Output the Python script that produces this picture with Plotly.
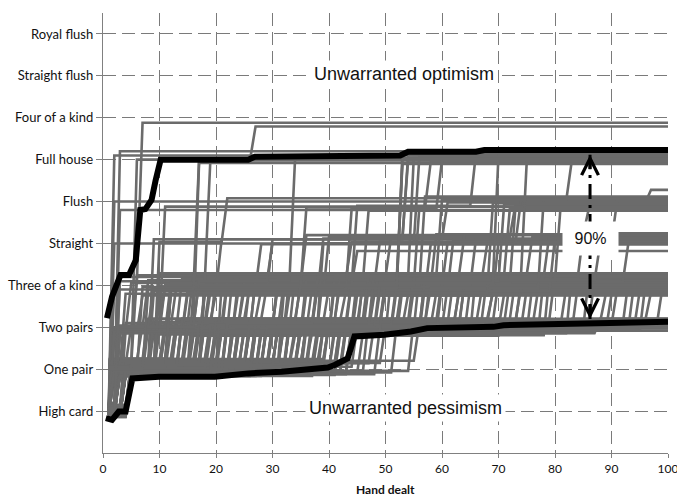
import plotly.graph_objects as go

CATEGORIES = ["High card", "One pair", "Two pairs", "Three of a kind", "Straight",
              "Flush", "Full house", "Four of a kind", "Straight flush", "Royal flush"]
CATEGORY_LEVELS = [1, 2, 3, 4, 5, 6, 7, 8, 9, 10]
X_TICKS = [0, 10, 20, 30, 40, 50, 60, 70, 80, 90, 100]
LAST_HAND = 100

# Each gray path: "hand,value" change points (best hand so far)
PATHS_END_TWO_PAIRS = [
    "1,0.92 4,1.88 44,3.04",
    "1,1.05 3,1.84 12,1.92 52,3.1",
    "1,0.88 5,1.96 55,3.15",
    "1,1.1 2,2.02 30,2.86 83,3.2",
    "1,0.95 5,2.08 24,2.92",
    "1,1.2 3,2.14 17,2.98",
    "1,0.9 4,1.9 38,2.8 71,3.0",
    "1,2.2 9,3.04",
    "1,0.86 5,1.84 29,2.2 56,3.1",
    "1,1.15 3,2.25 13,3.15",
    "1,0.98 4,1.92 46,2.86 88,3.2",
    "1,1.08 4,2.02 33,2.98",
    "1,0.9 2,1.86 21,2.14 48,3.06",
    "1,1.02 5,2.06 40,3.12",
    "1,0.9 4,2.1 36,3.02",
    "1,1.0 3,1.94 47,3.18",
    "1,2.12 30,3.08",
    "1,0.94 5,2.0 14,3.12",
    "1,1.06 2,2.08 26,2.98 79,3.16",
    "1,0.9 4,1.86 42,3.04",
    "1,2.24 8,3.2",
    "1,1.02 3,2.18 34,3.0",
    "1,0.93 3,2.03 39,3.01",
    "1,1.0 5,1.97 43,3.07",
    "1,2.19 18,3.13",
    "1,0.9 4,2.15 50,3.05",
    "1,1.08 2,1.99 23,3.17",
    "1,0.97 3,2.09 35,2.99 92,3.19",
]

PATHS_END_THREE_OF_A_KIND = [
    "1,1.0 2,3.9", "1,0.9 3,4.2", "1,1.05 2,2.0 4,3.8", "1,0.95 3,2.9 5,4.06",
    "1,2.14 6,4.24", "1,0.88 4,1.9 7,3.96", "1,1.0 2,3.0 8,4.12", "1,0.93 3,2.08 9,3.86",
    "1,1.15 5,2.02 10,4.29", "1,0.9 2,1.96 4,3.1 11,4.0", "1,1.02 3,2.25 12,3.78",
    "1,0.97 5,1.84 9,2.98 14,4.16", "1,1.08 2,2.92 15,3.92", "1,0.9 4,2.1 11,3.04 17,4.08",
    "1,1.0 3,1.94 18,4.2", "1,0.86 5,2.16 13,3.16 20,3.82", "1,2.04 16,2.84 22,4.04",
    "1,0.94 4,1.88 10,2.96 23,4.26", "1,1.04 3,2.12 19,3.08 25,3.9", "1,2.18 21,2.9 27,4.14",
    "1,1.0 3,1.98 14,3.2 29,3.98", "1,0.92 3,2.06 24,3.02 31,4.22", "1,1.1 4,1.86 27,2.88 33,3.8",
    "1,2.22 17,3.12 35,4.1", "1,0.88 5,2.0 30,2.94 37,3.94", "1,1.06 3,1.92 25,3.06 39,4.28",
    "1,0.95 4,2.1 34,2.82 41,4.02", "1,2.02 22,3.18 43,3.86", "1,0.9 4,2.16 38,3.0 45,4.18",
    "1,1.13 3,1.84 28,2.9 48,3.76", "1,0.98 5,2.08 32,3.14 50,4.06", "1,0.91 2,1.9 42,2.86 53,3.92",
    "1,1.04 4,2.2 20,2.96 56,4.24", "1,0.89 3,2.0 41,3.04 59,3.84", "1,2.12 36,3.1 62,4.12",
    "1,0.94 5,1.94 43,2.92 65,3.98", "1,1.09 3,2.04 23,3.16 68,4.2", "1,0.9 4,1.88 49,2.98 71,3.8",
    "1,2.24 40,3.08 74,4.08", "1,0.96 5,2.06 45,3.02 77,3.88", "1,1.0 3,1.96 31,3.2 80,4.26",
    "1,2.14 44,2.94 84,3.96", "1,1.07 4,2.0 26,3.12 87,4.14", "1,0.9 3,2.1 42,3.06 91,3.9",
    "1,1.0 5,1.9 39,3.0 94,4.04", "1,2.08 33,3.18 97,3.84",
    "1,0.9 3,1.88 16,2.8 36,3.86", "1,1.04 4,2.24 19,3.14 44,4.12", "1,2.0 11,2.88 47,3.94",
    "1,0.96 5,1.92 24,2.84 51,4.22", "1,1.1 2,2.16 29,3.04 54,3.78", "1,0.92 3,2.04 35,2.9 57,4.0",
    "1,1.0 4,1.86 33,3.16 60,4.16", "1,2.1 26,2.96 63,3.88", "1,0.88 5,2.18 37,2.86 66,4.28",
    "1,1.06 3,1.94 21,3.2 69,3.82", "1,0.94 4,2.06 30,3.1 72,4.06", "1,2.2 39,3.0 75,3.92",
    "1,1.02 5,1.98 41,2.88 78,4.18", "1,0.9 2,2.12 18,3.06 82,3.96", "1,1.12 4,1.9 36,2.98 86,4.24",
    "1,0.97 3,2.02 27,3.14 89,3.8", "1,2.16 42,3.08 93,4.1", "1,0.9 5,1.88 23,2.92 96,4.02",
    "1,1.0 3,2.22 7,3.04 13,3.98", "1,0.95 2,2.86 6,4.1", "1,1.08 4,2.1 8,3.12 16,4.26",
    "1,0.9 3,1.96 12,2.94 19,3.84", "1,2.06 10,3.0 24,4.2", "1,1.0 5,2.14 15,3.18 28,3.9",
    "1,0.93 2,1.9 22,3.02 32,4.04", "1,1.05 4,2.0 28,2.84 46,4.14", "1,0.9 3,2.18 31,2.96 52,3.94",
    "1,2.04 35,3.12 58,4.22", "1,0.98 5,1.84 38,3.06 67,3.86", "1,1.1 3,2.08 25,2.9 76,4.0",
    "1,0.91 4,1.83 20,2.83 45,3.79", "1,1.03 3,1.93 24,2.89 49,3.85", "1,2.01 28,2.95 55,3.91",
    "1,0.97 5,2.07 32,3.01 61,3.97", "1,1.09 2,2.13 36,3.07 64,4.03", "1,0.9 4,2.19 40,3.13 70,4.09",
    "1,1.0 3,2.23 15,3.19 73,4.15", "1,1.12 5,1.87 19,2.81 79,4.21", "1,0.93 3,1.95 23,2.87 83,4.27",
    "1,2.05 27,2.93 90,3.79", "1,0.96 4,2.11 31,2.99 95,3.87", "1,1.04 2,2.17 35,3.05 99,3.93",
    "1,0.89 5,2.21 11,3.11 38,3.99", "1,1.01 3,1.85 14,3.17 42,4.05", "1,0.95 4,1.91 17,2.85 48,4.11",
    "1,2.15 21,2.91 53,4.17", "1,1.07 5,2.09 25,2.97 57,4.23", "1,0.92 3,2.03 29,3.03 63,3.81",
    "1,1.11 2,1.97 33,3.09 69,3.89", "1,0.94 4,1.89 37,3.15 74,3.95", "1,1.0 5,2.23 9,2.83 18,3.77",
    "1,0.9 3,2.07 13,2.91 26,4.07", "1,2.13 16,2.97 34,4.19", "1,1.05 4,1.95 44,2.89 60,4.01",
]

PATHS_END_STRAIGHT = [
    "1,1.0 2,5.0", "1,0.9 3,2.1 9,5.1", "1,1.05 4,2.0 12,3.94 28,4.98",
    "1,2.08 8,3.1 19,4.06 36,5.2", "1,0.95 5,1.9 21,2.94 33,4.18 44,5.04",
    "1,1.1 3,2.86 15,3.82 39,5.12", "1,0.88 4,2.14 26,3.06 47,4.0 59,5.22",
    "1,1.0 5,2.02 29,3.18 53,4.1 68,5.0", "1,0.9 2,1.86 13,3.0 24,3.9 62,5.08",
    "1,1.03 3,2.2 37,3.14 55,4.26 76,5.16", "1,0.96 5,2.04 18,4.02 45,4.82",
    "1,1.08 2,2.9 7,3.76 70,5.06", "1,0.9 4,1.98 11,2.96 31,4.16 85,5.24",
    "1,1.0 3,2.12 43,3.0 64,4.08 93,5.02", "1,0.94 4,1.92 22,3.08 50,3.86 80,5.14",
    "1,2.06 16,3.84 58,4.98",
    "1,0.9 3,2.02 24,3.1 46,4.0 66,5.1", "1,1.0 4,2.16 32,3.0 57,4.2 79,5.2",
    "1,2.0 18,3.14 40,3.96 61,5.04", "1,0.94 2,2.9 27,4.12 88,5.0",
]

PATHS_END_FLUSH = [
    "1,1.0 2,6.0", "1,1.1 3,5.8", "1,0.9 3,2.0 10,5.04 22,6.08", "1,2.1 5,3.04 11,5.88",
    "1,0.95 4,1.94 16,3.1 25,4.1 47,5.78", "1,0.9 5,2.0 23,3.0 38,4.0 57,6.12",
    "1,1.12 3,2.14 12,3.88 30,5.1 61,5.98 97,6.28", "1,0.88 5,1.88 28,2.98 44,4.06 73,5.86",
    "1,1.0 2,2.95 20,4.2 51,5.16 73,5.92", "1,0.93 4,2.06 35,3.12 58,3.94 78,6.04",
    "1,1.07 3,1.9 20,2.86 41,4.24 64,5.22 86,5.84", "1,0.9 5,2.2 32,3.82 69,5.96",
    "1,1.0 2,2.02 9,3.2 26,4.0 49,5.04 91,6.02", "1,0.97 5,1.96 15,2.92 36,4.12 81,5.9",
    "1,0.9 3,2.14 27,3.06 52,4.1 71,5.94", "1,1.0 4,1.9 17,3.16 39,5.0 74,6.06",
    "1,2.1 31,3.04 48,4.26 72,5.82", "1,0.96 5,2.04 21,4.0 56,5.88",
]

PATHS_END_FULL_HOUSE = [
    "1,1.0 2,7.1", "1,1.1 3,7.2", "1,0.95 2,2.05 6,7.0", "1,0.9 3,1.9 8,3.0 17,6.92",
    "1,1.05 4,2.9 12,4.06 19,6.98", "1,2.1 15,3.1 22,4.12 34,7.04",
    "1,1.0 5,2.0 10,3.9 21,5.1 54,7.1", "1,0.88 4,1.96 19,3.06 31,4.0 45,5.9 66,7.14",
    "1,1.12 3,2.2 26,3.16 42,4.24 60,6.04 83,7.0", "1,0.9 4,2.14 18,3.82 40,5.16 54,6.98",
    "1,1.0 3,1.84 27,2.92 50,4.18 55,7.04", "1,0.95 2,2.9 11,4.0 36,5.86 58,6.94",
    "1,1.08 4,2.06 14,3.2 47,4.29 75,6.96", "1,0.9 3,3.04 9,3.94 53,7.12",
    "1,0.9 4,2.0 22,3.1 38,4.2 53,6.9", "1,1.0 3,3.0 17,4.1 30,5.0 56,7.08",
    "1,2.06 12,3.9 44,5.82 60,7.0", "1,0.95 5,2.1 29,3.0 49,4.06 70,7.12",
    "1,1.1 2,1.96 20,3.2 35,4.0 53,7.02",
]

PATHS_END_FOUR_OF_A_KIND = [
    "1,1.0 3,4.1 7,7.88",
    "1,2.0 8,3.9 17,6.98 27,7.79",
]

# 95th and 5th percentile paths (thick black)
UPPER_X = [0.7, 1.6, 3.1, 4.6, 5.8, 6.6, 7.5, 8.6, 9.3, 10.2, 25.7, 26.9, 52.6, 54.0, 66.0, 67.5, 100]
UPPER_V = [3.22, 3.73, 4.25, 4.25, 4.6, 5.8, 5.82, 6.04, 6.5, 7.0, 7.0, 7.07, 7.1, 7.19, 7.19, 7.23, 7.23]
LOWER_X = [0.5, 1.6, 2.8, 4.0, 5.2, 9.9, 19.8, 25.7, 31.6, 37.5, 39.8, 41.0, 43.3, 44.5, 49.8,
           54.5, 57.4, 69.1, 70.9, 89.7, 100]
LOWER_V = [0.83, 0.79, 0.99, 0.99, 1.78, 1.82, 1.82, 1.9, 1.94, 2.02, 2.04, 2.1, 2.26, 2.78, 2.82,
           2.9, 2.98, 3.01, 3.05, 3.1, 3.13]

ARROW_HAND = 86.2
ARROW_TOP = 7.12
ARROW_BOTTOM = 3.2
SPREAD_LABEL = "90%"
SPREAD_LABEL_LEVEL = 5.13
OPTIMISM_TEXT = "Unwarranted optimism"
PESSIMISM_TEXT = "Unwarranted pessimism"
OPTIMISM_POS = (53.3, 9.05)
PESSIMISM_POS = (53.5, 1.07)
X_TITLE = "Hand dealt"


def step_points(path):
    pts = [tuple(float(p) for p in tok.split(",")) for tok in path.split()]
    xs = [pts[0][0]]
    ys = [pts[0][1]]
    for hx, hv in pts[1:]:
        prev = ys[-1]
        xs += [hx - 1, hx]
        ys += [prev, hv]
    xs.append(LAST_HAND)
    ys.append(ys[-1])
    return xs, ys


all_paths = (PATHS_END_TWO_PAIRS + PATHS_END_THREE_OF_A_KIND + PATHS_END_STRAIGHT +
             PATHS_END_FLUSH + PATHS_END_FULL_HOUSE + PATHS_END_FOUR_OF_A_KIND)
gx, gy = [], []
for p in all_paths:
    xs, ys = step_points(p)
    gx += xs + [None]
    gy += ys + [None]

fig = go.Figure()
fig.add_trace(go.Scatter(x=gx, y=gy, mode="lines", line=dict(color="#6b6b6b", width=2.6),
                         hoverinfo="skip", showlegend=False))
fig.add_trace(go.Scatter(x=UPPER_X, y=UPPER_V, mode="lines",
                         line=dict(color="#000000", width=6), showlegend=False))
fig.add_trace(go.Scatter(x=LOWER_X, y=LOWER_V, mode="lines",
                         line=dict(color="#000000", width=6), showlegend=False))

grid_col = "#7a7a7a"
fig.update_layout(
    width=677, height=496,
    margin=dict(l=103, r=9, t=13, b=43),
    paper_bgcolor="white", plot_bgcolor="white",
    xaxis=dict(range=[0, 100], tickvals=X_TICKS, showgrid=True, gridcolor=grid_col,
               griddash="13px,6px", gridwidth=1.4, zeroline=False, showline=True,
               linecolor="#808080", linewidth=1.4, ticks="outside", ticklen=4,
               tickcolor="#808080", ticklabeloverflow="allow", automargin=False,
               tickfont=dict(family="Lato", size=12, color="#111111")),
    yaxis=dict(range=[0, 10.5], tickvals=CATEGORY_LEVELS, ticktext=CATEGORIES, showgrid=True,
               gridcolor=grid_col, griddash="13px,6px", gridwidth=1.4, zeroline=False,
               showline=True, linecolor="#808080", linewidth=1.4, ticks="outside", ticklen=6,
               tickcolor="#808080", automargin=False,
               tickfont=dict(family="Lato", size=13, color="#111111")),
)

fig.add_shape(type="line", x0=ARROW_HAND, x1=ARROW_HAND, y0=ARROW_BOTTOM, y1=ARROW_TOP,
              xref="x", yref="y", line=dict(color="black", width=3, dash="15px,6px,3px,6px"))
fig.add_annotation(x=ARROW_HAND, y=ARROW_TOP, ax=0, ay=16, text="", showarrow=True,
                   arrowhead=5, arrowsize=1.1, arrowwidth=3, arrowcolor="black")
fig.add_annotation(x=ARROW_HAND, y=ARROW_BOTTOM, ax=0, ay=-16, text="", showarrow=True,
                   arrowhead=5, arrowsize=1.1, arrowwidth=3, arrowcolor="black")
fig.add_annotation(x=ARROW_HAND, y=SPREAD_LABEL_LEVEL, text=SPREAD_LABEL, showarrow=False,
                   bgcolor="white", width=53, height=31,
                   font=dict(family="Liberation Sans", size=16, color="#111111"))
fig.add_annotation(x=OPTIMISM_POS[0], y=OPTIMISM_POS[1], text=OPTIMISM_TEXT, showarrow=False,
                   bgcolor="white", borderpad=3,
                   font=dict(family="Liberation Sans", size=18, color="#111111"))
fig.add_annotation(x=PESSIMISM_POS[0], y=PESSIMISM_POS[1], text=PESSIMISM_TEXT, showarrow=False,
                   bgcolor="white", borderpad=3,
                   font=dict(family="Liberation Sans", size=18, color="#111111"))
fig.add_annotation(x=0.5, y=-0.084, xref="paper", yref="paper", text="<b>" + X_TITLE + "</b>",
                   showarrow=False, yanchor="middle",
                   font=dict(family="Lato", size=12, color="#111111"))

fig.write_html("out.html")
